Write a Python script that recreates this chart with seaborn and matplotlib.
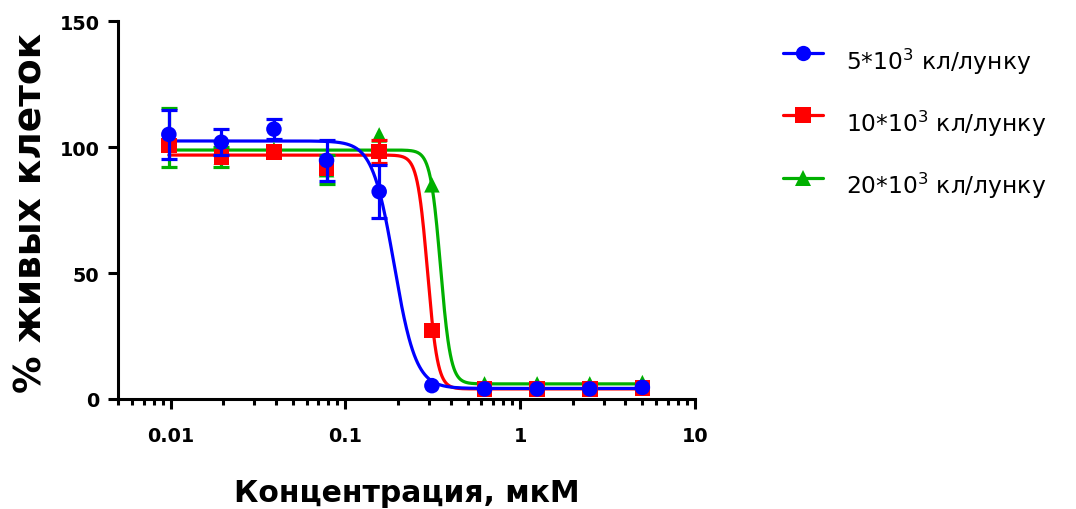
import numpy as np
import matplotlib
matplotlib.use("Agg")
import matplotlib.pyplot as plt
from matplotlib.lines import Line2D
from matplotlib.ticker import LogLocator, NullFormatter
import seaborn as sns

# Concentrations, µM (two-fold dilution series)
conc = [0.00977, 0.0195, 0.039, 0.078, 0.156, 0.3125, 0.625, 1.25, 2.5, 5.0]

series_labels = ["5*10$^3$ кл/лунку", "10*10$^3$ кл/лунку", "20*10$^3$ кл/лунку"]

# Mean viability (%) and SD per seeding density
viab_5k = [105.0, 101.9, 107.1, 94.7, 82.3, 5.3, 4.0, 4.0, 4.0, 4.6]
sd_5k = [9.8, 5.2, 4.0, 8.2, 10.6, 0.8, 0.4, 0.4, 0.4, 0.5]

viab_10k = [100.6, 96.0, 98.1, 91.6, 98.2, 27.1, 4.0, 4.0, 4.0, 4.4]
sd_10k = [2.0, 2.0, 1.5, 2.5, 4.5, 2.0, 0.4, 0.4, 0.4, 0.4]

viab_20k = [103.7, 96.0, 99.0, 91.0, 104.8, 85.0, 6.0, 6.0, 6.0, 6.5]
sd_20k = [11.8, 4.0, 1.5, 5.7, 1.0, 1.5, 0.4, 0.4, 0.4, 0.4]

# Four-parameter logistic fits: top, bottom, IC50 (µM), Hill slope
fit_5k = (102.4, 4.2, 0.19, 7.0)
fit_10k = (96.8, 4.0, 0.295, 15.0)
fit_20k = (98.8, 6.0, 0.35, 15.0)

x_ticks = [0.01, 0.1, 1, 10]
x_tick_labels = ["0.01", "0.1", "1", "10"]
y_ticks = [0, 50, 100, 150]

colors = ["#0000FF", "#FF0000", "#00B000"]
markers = ["o", "s", "^"]
viabs = [viab_5k, viab_10k, viab_20k]
sds = [sd_5k, sd_10k, sd_20k]
fits = [fit_5k, fit_10k, fit_20k]

# Error bars shorter than the symbol half-height are not drawn
MIN_VISIBLE_SD = 3.0


def logistic(c, top, bottom, ic50, hill):
    c = np.asarray(c, dtype=float)
    return bottom + (top - bottom) / (1.0 + (c / ic50) ** hill)


sns.set_style("ticks")
plt.rcParams["font.family"] = ["DejaVu Sans"]
plt.rcParams["mathtext.default"] = "regular"
plt.rcParams["axes.linewidth"] = 2.2
for key in ["text.color", "axes.labelcolor", "xtick.color", "ytick.color",
            "axes.edgecolor"]:
    plt.rcParams[key] = "black"

W, H = 1076, 510
fig = plt.figure(figsize=(W / 100, H / 100), dpi=100)
ax = fig.add_axes([118 / W, 1 - 400 / H, (695 - 118) / W, (400 - 22) / H])

lw = 2.3
x_fit = np.logspace(np.log10(conc[0]), np.log10(conc[-1]), 800)

# Fitted curves underneath all markers (green, red, then blue on top)
for k, i in enumerate([2, 1, 0]):
    sns.lineplot(x=x_fit, y=logistic(x_fit, *fits[i]), color=colors[i], lw=lw,
                 estimator=None, ax=ax, zorder=2 + k * 0.1)

# Error bars and points, each density layered above the previous one
for k, i in enumerate([2, 1, 0]):
    c_arr = np.asarray(conc)
    v_arr = np.asarray(viabs[i])
    s_arr = np.asarray(sds[i])
    show = s_arr >= MIN_VISIBLE_SD
    if show.any():
        ax.errorbar(c_arr[show], v_arr[show], yerr=s_arr[show], fmt="none",
                    ecolor=colors[i], elinewidth=lw, capsize=6.0, capthick=lw,
                    zorder=5 + 2 * k, clip_on=False)
    sns.scatterplot(x=conc, y=viabs[i], marker=markers[i], color=colors[i],
                    s=125, edgecolor="none", linewidth=0, ax=ax,
                    zorder=6 + 2 * k, clip_on=False)

ax.set_xscale("log")
ax.set_xlim(0.005, 10)
ax.set_ylim(0, 150)
ax.set_xticks(x_ticks)
ax.set_xticklabels(x_tick_labels, fontweight="bold")
ax.xaxis.set_minor_locator(LogLocator(base=10, subs=np.arange(2, 10)))
ax.xaxis.set_minor_formatter(NullFormatter())
ax.set_yticks(y_ticks)
ax.set_yticklabels([str(v) for v in y_ticks], fontweight="bold")

ax.tick_params(axis="both", which="major", length=7.2, width=2.2,
               labelsize=13.8)
ax.tick_params(axis="x", which="major", pad=12.5)
ax.tick_params(axis="y", which="major", pad=6)
ax.tick_params(axis="x", which="minor", length=4.3, width=2.2)
sns.despine(ax=ax)

ax.set_xlabel("Концентрация, мкМ", fontsize=21.5, fontweight="bold")
ax.xaxis.set_label_coords(0.501, -0.208)
ax.set_ylabel("% живых клеток", fontsize=27, fontweight="bold")
ax.yaxis.set_label_coords(-0.118, 0.495)

# Legend: line-and-marker keys with labels to the right
key_y = [53.5, 116, 178.5]
text_baseline = [69.5, 131.5, 193.5]
for i in range(3):
    yk = 1 - key_y[i] / H
    fig.add_artist(Line2D([783 / W, 823 / W], [yk, yk], color=colors[i], lw=lw,
                          transform=fig.transFigure))
    fig.add_artist(Line2D([803 / W], [yk], color=colors[i], marker=markers[i],
                          markersize=11, markeredgewidth=0, lw=0,
                          transform=fig.transFigure))
    fig.text(846 / W, 1 - text_baseline[i] / H, series_labels[i], fontsize=16.8,
             ha="left", va="baseline")

fig.savefig("out.png", dpi=100, facecolor="white")
